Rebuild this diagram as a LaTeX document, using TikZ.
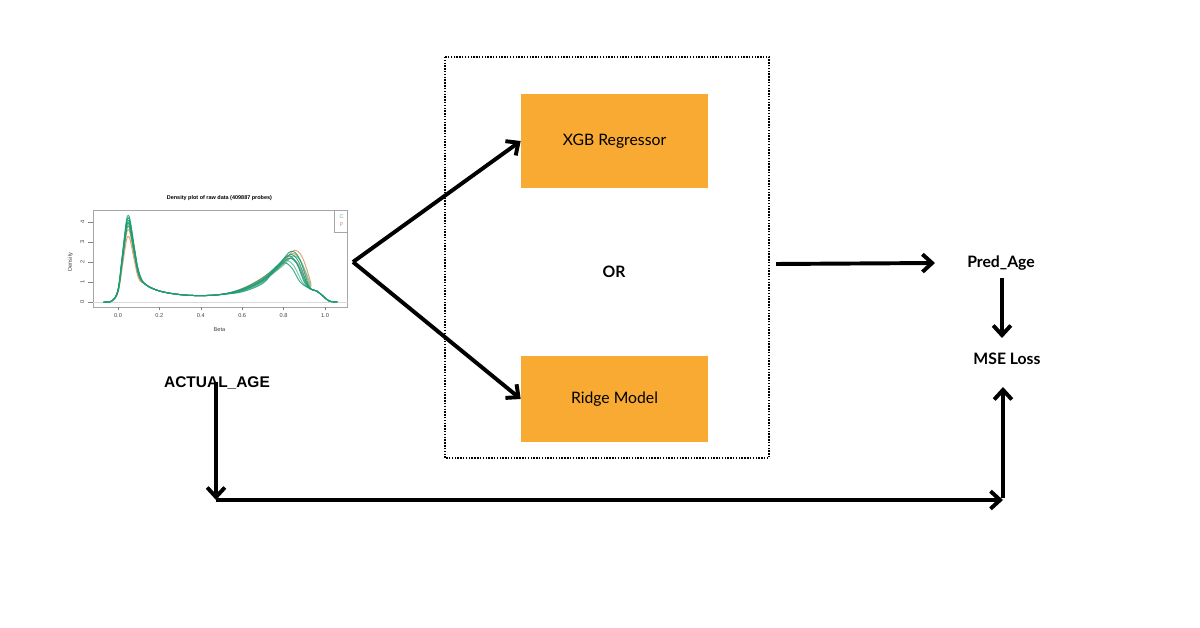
\documentclass[tikz,border=0pt]{standalone}
\usepackage{fontspec}
\setmainfont{Lato}
\newfontfamily\arialfont{Liberation Sans}
\usetikzlibrary{arrows.meta,positioning}
\definecolor{box-color}{HTML}{F8AA32}
\definecolor{c-color}{HTML}{1B9E77}
\definecolor{c2-color}{HTML}{5FBFA3}
\definecolor{p-color}{HTML}{D9955A}
\tikzset{>=Latex}

\begin{document}
\begin{tikzpicture}[x=0.025cm, y=-0.025cm,
                every node/.append style={align=center, inner sep=0pt},
                model/.style={fill=box-color, minimum width=4.675cm, font=\fontsize{11.2}{13}\selectfont},
                lbl/.style={font=\fontsize{11.2}{13}\selectfont\bfseries},
                tiny/.style={font=\arialfont\fontsize{4}{4.5}\selectfont, text=black!75},
                arr/.style={-{Straight Barb[length=2.4mm,width=4.4mm]}, line width=2.8pt}]

    \useasboundingbox (0,0) rectangle (1200,628);

    % models
    \draw[line width=1pt, densely dotted] (445,57) rectangle (769,458);
    \node [model, minimum height=2.35cm] (XGB) at (614.5,141) {XGB Regressor};
    \node [model, minimum height=2.15cm] (Ridge) at (614.5,399) {Ridge Model};
    \node [lbl] (or) at (614,272) {OR};

    % density plot of the input data
    \begin{scope}[shift={(118,302)}, xscale=207, yscale=-20]
        \draw[gray!70, line width=0.4pt] (-0.12,-0.25) rectangle (1.11,4.6);
        \draw[gray!30, line width=0.3pt] (-0.12,0) -- (1.11,0);
        \foreach \t in {0.0,0.2,0.4,0.6,0.8,1.0}
            \draw[gray, line width=0.3pt] (\t,-0.25) -- (\t,-0.4)
                node [tiny, below=2.5pt] {\t};
        \foreach \d in {0,...,4}
            \draw[gray, line width=0.3pt] (-0.12,\d) -- (-0.145,\d)
                node [tiny, left=2.5pt, rotate=90, anchor=south] {\d};
        \foreach \a/\b/\c/\col in {0.78/1.12/0.03/p-color, 0.86/1.05/0.02/p-color,
                                   0.92/0.95/0.01/p-color, 0.95/1.0/0.025/c2-color,
                                   1.0/0.9/-0.01/c2-color, 0.9/1.1/0.015/c-color,
                                   0.97/0.85/-0.02/c-color, 1.0/1.0/0.0/c-color,
                                   1.03/0.95/0.005/c-color, 0.94/1.03/0.01/c-color}
            \draw[\col, line width=0.7pt, opacity=0.85] plot[smooth, tension=0.6] coordinates {
                (-0.07,0) (-0.03,0.05) (0.0,{0.6*\a}) (0.02,{2.2*\a}) (0.04,{3.9*\a})
                (0.05,{4.2*\a}) (0.06,{3.9*\a}) (0.08,{2.6*\a}) (0.1,{1.5*\a})
                (0.13,0.9) (0.2,0.55) (0.3,0.37) (0.4,0.32) (0.5,0.38)
                (0.6,{0.6*\b}) (0.7,{1.1*\b}) ({0.77+\c},{1.8*\b}) ({0.82+\c},{2.3*\b})
                ({0.86+\c},{2.0*\b}) ({0.9+\c},1.0) (0.93,0.65) (0.96,0.55)
                (0.99,0.3) (1.02,0.05) (1.06,0)};
        \draw[gray!70, line width=0.4pt] (1.043,4.6) -- (1.043,3.5) -- (1.11,3.5);
        \node [tiny, text=c2-color] (legC) at (1.08,4.25) {C};
        \node [tiny, text=p-color] (legP) at (1.08,3.85) {P};
        \node [tiny, font=\arialfont\fontsize{3.9}{4}\selectfont\bfseries, text=black] (title) at (0.49,5.2) {Density plot of raw data (409887 probes)};
        \node [tiny] (xlab) at (0.49,-1.4) {Beta};
        \node [tiny, rotate=90] (ylab) at (-0.23,2.0) {Density};
    \end{scope}
    \coordinate (fork) at (353,262);

    % outputs
    \coordinate (out) at (776,264);
    \node [lbl] (pred) at (1001,263) {Pred\_Age};
    \node [lbl] (mse) at (1007,359) {MSE Loss};
    \node [lbl, font=\arialfont\fontsize{11}{13}\selectfont\bfseries] (actual) at (217,383) {ACTUAL\_AGE};
    \coordinate (c1) at (216,500);
    \coordinate (c2) at (1003,500);

    \draw[arr] (fork) -- (XGB.west);
    \draw[arr] (fork) -- (Ridge.west);
    \draw[arr] (out) -- ([xshift=-0.8cm]pred.west);
    \draw[arr] (1002,278) -- (1002,338);
    \draw[arr] (actual.south -| c1) ++(0,-8) -- (c1);
    \draw[arr] (c1) -- (c2);
    \draw[arr] ([yshift=1.4pt]c2) -- (1003,387);
\end{tikzpicture}
\end{document}
